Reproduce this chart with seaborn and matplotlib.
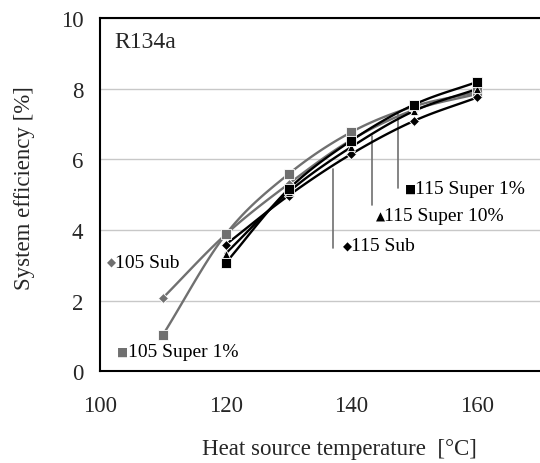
import numpy as np
import pandas as pd
import matplotlib
matplotlib.use('Agg')
import matplotlib.pyplot as plt
import seaborn as sns

# 데이터
temps = [110, 120, 130, 140, 150, 160]
sub_105 = [2.07, 3.87, 5.30, 6.55, 7.40, 7.85]
super1_105 = [1.02, 3.87, 5.58, 6.77, 7.50, 7.90]
sub_115 = [None, 3.58, 4.97, 6.15, 7.09, 7.75]
super10_115 = [None, 3.33, 5.07, 6.35, 7.37, 7.99]
super1_115 = [None, 3.06, 5.15, 6.53, 7.55, 8.19]

series_names = ['105 Sub', '105 Super 1%', '115 Sub', '115 Super 10%', '115 Super 1%']
series_vals = [sub_105, super1_105, sub_115, super10_115, super1_115]
series_color = ['#707070', '#707070', 'black', 'black', 'black']
series_marker = ['D', 's', 'D', '^', 's']
series_msize = [5, 6.5, 5, 6, 6.5]

# 라벨 위치 (기호 x, 글자 x, y) 와 지시선
label_pos = [(101.9, 102.4, 3.09), (103.6, 104.5, 0.55), (139.3, 139.9, 3.55),
             (144.6, 145.2, 4.40), (149.4, 150.1, 5.17)]
leaders = [None, None, (137.1, 5.72, 3.5), (143.3, 6.67, 4.7), (147.4, 7.28, 5.2)]
label_glyph = ['◆', '■', '◆', '▲', '■']

rows = []
for name, vals in zip(series_names, series_vals):
    for t, v in zip(temps, vals):
        if v is not None:
            rows.append({'series': name, 'temp': t, 'eff': v})
df = pd.DataFrame(rows)

sns.set_style('white')
plt.rcParams['font.family'] = ['Liberation Serif', 'DejaVu Sans']

fig = plt.figure(figsize=(5.4, 4.64), dpi=100)
ax = fig.add_axes([0.185, 0.198, 0.815, 0.761])


def smooth(x, y, n=20):
    # Excel 스타일 부드러운 선 (Catmull-Rom)
    x = np.asarray(x, float)
    y = np.asarray(y, float)
    px = np.concatenate([[2 * x[0] - x[1]], x, [2 * x[-1] - x[-2]]])
    py = np.concatenate([[2 * y[0] - y[1]], y, [2 * y[-1] - y[-2]]])
    xs, ys = [], []
    t = np.linspace(0, 1, n)
    for i in range(1, len(px) - 2):
        for p, out in ((px, xs), (py, ys)):
            p0, p1, p2, p3 = p[i - 1], p[i], p[i + 1], p[i + 2]
            c = 0.5 * ((2 * p1) + (-p0 + p2) * t + (2 * p0 - 5 * p1 + 4 * p2 - p3) * t ** 2
                       + (-p0 + 3 * p1 - 3 * p2 + p3) * t ** 3)
            out.extend(c)
    return xs, ys


for name, col, mk, ms in zip(series_names, series_color, series_marker, series_msize):
    d = df[df['series'] == name]
    sx, sy = smooth(d['temp'], d['eff'])
    ax.plot(sx, sy, color=col, lw=1.7, zorder=3)
    ax.plot(d['temp'], d['eff'], ls='none', marker=mk, ms=ms, color=col,
            mec='white', mew=0.6, zorder=4)

for name, col, pos, ld, g in zip(series_names, series_color, label_pos, leaders, label_glyph):
    if ld is not None:
        ax.plot([ld[0], ld[0]], [ld[1], ld[2]], color='#707070', lw=1.2, zorder=2)
    ax.text(pos[0], pos[2], g, color=col, fontsize=8.5, va='center', ha='center',
            family=['DejaVu Sans'], clip_on=False)
    ax.text(pos[1], pos[2], name, color='black', fontsize=14, va='center', ha='left',
            clip_on=False)

ax.text(102.35, 9.18, 'R134a', fontsize=17, va='baseline')

ax.set_xlim(100, 170)
ax.set_ylim(0, 10)
ax.set_xticks([100, 120, 140, 160])
ax.set_yticks([0, 2, 4, 6, 8, 10])
ax.yaxis.grid(True, color='#c8c8c8', lw=1)
ax.set_axisbelow(True)
for s in ['left', 'bottom', 'top']:
    ax.spines[s].set_color('black')
    ax.spines[s].set_linewidth(1.5)
ax.spines['right'].set_visible(False)
ax.tick_params(axis='both', direction='out', length=6, width=1, labelsize=16.5, color='black')
ax.tick_params(axis='x', pad=11)
ax.tick_params(axis='y', pad=6)

ax.set_xlabel('Heat source temperature  [°C]', fontsize=16.5)
ax.set_ylabel('System efficiency [%]', fontsize=16.5)
ax.xaxis.set_label_coords(0.545, -0.19)
ax.yaxis.set_label_coords(-0.148, 0.52)

fig.savefig('out.png', dpi=100)
